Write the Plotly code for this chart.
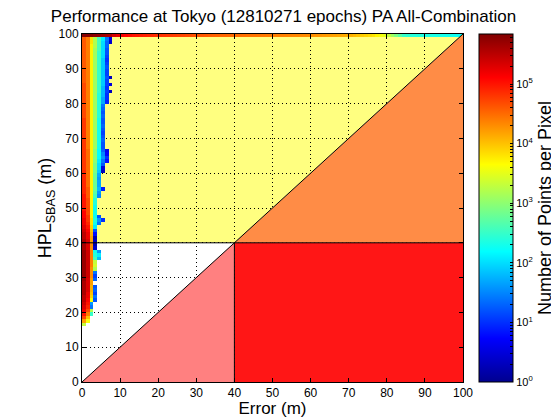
import numpy as np
import plotly.graph_objects as go

# ---------------- data ----------------
title_text = "Performance at Tokyo (12810271 epochs) PA All-Combination"
x_ticks = [0, 10, 20, 30, 40, 50, 60, 70, 80, 90, 100]
y_ticks = [0, 10, 20, 30, 40, 50, 60, 70, 80, 90, 100]
cbar_ticks = [0, 1, 2, 3, 4, 5]
cbar_labels = ["10<sup>0</sup>", "10<sup>1</sup>", "10<sup>2</sup>",
               "10<sup>3</sup>", "10<sup>4</sup>", "10<sup>5</sup>"]
alarm_limit = 40
log_count_max = 5.84

# log10(points per pixel), per HPL bin (1 m), columns = error bins 0,1,2,... (1 m)
hpl_bins = list(range(16, 99))
hpl_rows = [
    [3.3],                                   # 16
    [4.2, 3.6],                              # 17
    [4.7, 4.0],                              # 18
    [5.0, 4.4, 2.5],                         # 19
    [5.2, 4.7, 3.2],                         # 20
    [5.3, 4.9, 1.4],                         # 21
    [5.4, 5.0, 1.6],                         # 22
    [5.5, 5.1, 3.6, 1.2],                    # 23
    [5.5, 5.2, 3.9, 1.4],                    # 24
    [5.6, 5.2, 4.0, 1.1],                    # 25
    [5.6, 5.3, 4.1, 1.3],                    # 26
    [5.6, 5.3, 4.1, 1.2],                    # 27
    [5.6, 5.3, 4.2],                         # 28
    [5.7, 5.3, 4.2, 1.3],                    # 29
    [5.7, 5.4, 4.3, 1.1],                    # 30
    [5.7, 5.4, 4.3, 1.4],                    # 31
    [5.7, 5.4, 4.3, 3.2],                    # 32
    [5.7, 5.4, 4.4, 3.4],                    # 33
    [5.7, 5.4, 4.4, 3.3],                    # 34
    [5.7, 5.4, 4.4, 2.6, 1.8],               # 35
    [5.7, 5.4, 4.4, 2.4, 2.1],               # 36
    [5.7, 5.4, 4.4, 2.3, 1.6],               # 37
    [5.6, 5.3, 4.3, 0.4],                    # 38
    [5.6, 5.3, 4.3, 0.2],                    # 39
    [5.6, 5.3, 4.2, 0.3],                    # 40
    [5.5, 5.2, 4.2, 0.2],                    # 41
    [5.5, 5.2, 4.1, 0.8],                    # 42
    [5.4, 5.1, 4.0, 1.2],                    # 43
    [5.3, 5.0, 3.9, 2.1],                    # 44
    [5.2, 4.9, 3.8, 2.3, 1.4],               # 45
    [5.2, 4.8, 3.8, 2.4, 1.6, 1.0],          # 46
    [5.1, 4.8, 3.7, 2.3, 1.2],               # 47
    [5.1, 4.7, 3.7, 2.3],                    # 48
    [5.0, 4.7, 3.7, 2.3],                    # 49
    [5.0, 4.7, 3.7, 2.3],                    # 50
    [5.0, 4.7, 3.7, 2.4],                    # 51
    [5.0, 4.7, 3.7, 2.4],                    # 52
    [5.0, 4.6, 3.7, 2.6, 1.5],               # 53
    [4.9, 4.6, 3.7, 2.7, 1.6],               # 54
    [4.9, 4.6, 3.7, 2.8, 1.8, 0.9],          # 55
    [4.9, 4.5, 3.7, 2.8, 1.7],               # 56
    [4.9, 4.5, 3.7, 2.8, 1.7],               # 57
    [4.9, 4.5, 3.7, 2.8, 1.6],               # 58
    [4.9, 4.5, 3.7, 2.8, 1.7],               # 59
    [4.9, 4.5, 3.7, 2.9, 1.9, 0.3],          # 60
    [4.8, 4.5, 3.7, 2.9, 2.0, 0.5],          # 61
    [4.8, 4.5, 3.7, 2.9, 2.0, 1.2],          # 62
    [4.8, 4.5, 3.7, 3.0, 2.1, 1.4, 0.8],     # 63
    [4.8, 4.5, 3.7, 3.0, 2.2, 1.6, 1.0],     # 64
    [4.8, 4.5, 3.7, 3.0, 2.2, 1.5, 0.7],     # 65
    [4.8, 4.5, 3.7, 3.0, 2.2, 1.3, 0.6],     # 66
    [4.8, 4.4, 3.7, 3.1, 2.3, 1.2],          # 67
    [4.8, 4.4, 3.7, 3.1, 2.3, 1.2],          # 68
    [4.8, 4.4, 3.7, 3.1, 2.3, 1.3],          # 69
    [4.8, 4.4, 3.7, 3.1, 2.3, 1.2],          # 70
    [4.8, 4.4, 3.7, 3.1, 2.3, 1.1],          # 71
    [4.8, 4.4, 3.7, 3.1, 2.3, 1.2],          # 72
    [4.8, 4.4, 3.7, 3.1, 2.3, 1.3],          # 73
    [4.8, 4.4, 3.7, 3.1, 2.3, 1.2],          # 74
    [4.8, 4.4, 3.7, 3.1, 2.3, 1.2],          # 75
    [4.7, 4.4, 3.7, 3.1, 2.4, 1.3],          # 76
    [4.7, 4.4, 3.7, 3.1, 2.4, 1.2],          # 77
    [4.7, 4.4, 3.7, 3.1, 2.4, 1.3],          # 78
    [4.7, 4.4, 3.7, 3.1, 2.4, 1.4],          # 79
    [4.7, 4.4, 3.7, 3.1, 2.4, 1.7, 0.9],     # 80
    [4.7, 4.4, 3.7, 3.1, 2.4, 1.7, 1.0],     # 81
    [4.7, 4.4, 3.7, 3.1, 2.4, 1.8, 1.0],     # 82
    [4.7, 4.4, 3.7, 3.1, 2.5, 1.8, 1.1, 0.3],  # 83
    [4.7, 4.4, 3.7, 3.1, 2.5, 1.8, 1.0],     # 84
    [4.7, 4.4, 3.7, 3.1, 2.5, 1.9, 1.1, 0.5],  # 85
    [4.6, 4.4, 3.7, 3.1, 2.5, 1.9, 1.1],     # 86
    [4.6, 4.4, 3.7, 3.1, 2.5, 1.9, 1.2, 0.3],  # 87
    [4.6, 4.4, 3.7, 3.1, 2.5, 1.9, 1.1],     # 88
    [4.6, 4.4, 3.7, 3.1, 2.5, 1.9, 1.1],     # 89
    [4.6, 4.4, 3.7, 3.1, 2.5, 1.9, 1.2],     # 90
    [4.6, 4.4, 3.7, 3.1, 2.5, 1.9, 1.1],     # 91
    [4.6, 4.4, 3.7, 3.1, 2.5, 1.9, 1.0],     # 92
    [4.6, 4.4, 3.7, 3.1, 2.5, 2.0, 1.1],     # 93
    [4.6, 4.4, 3.7, 3.1, 2.5, 2.0, 1.2],     # 94
    [4.6, 4.4, 3.7, 3.1, 2.6, 2.0, 1.2],     # 95
    [4.6, 4.4, 3.7, 3.2, 2.6, 2.0, 1.3],     # 96
    [4.6, 4.4, 3.8, 3.2, 2.6, 2.0, 1.3, 0.4],  # 97
    [4.6, 4.4, 3.8, 3.2, 2.6, 2.1, 1.4, 0.5],  # 98
]

# saturated HPL (top row, 99-100 m), error bins 0..99
top_row = [
    5.80, 5.80, 5.80, 5.75, 5.70, 5.65, 5.60, 5.55, 5.35, 5.25,
    5.15, 5.10, 5.05, 5.00, 4.98, 4.95, 4.92, 4.90, 4.88, 4.86,
    4.84, 4.82, 4.80, 4.78, 4.76, 4.74, 4.72, 4.70, 4.68, 4.66,
    4.64, 4.62, 4.60, 4.58, 4.56, 4.55, 4.54, 4.53, 4.52, 4.51,
    4.50, 4.49, 4.48, 4.47, 4.46, 4.45, 4.44, 4.43, 4.42, 4.41,
    4.40, 4.39, 4.38, 4.37, 4.36, 4.35, 4.34, 4.33, 4.32, 4.31,
    4.30, 4.28, 4.26, 4.24, 4.22, 4.20, 4.18, 4.16, 4.14, 4.12,
    4.10, 4.05, 4.00, 3.95, 3.90, 3.85, 3.80, 3.70, 3.60, 3.50,
    3.30, 3.10, 2.90, 2.70, 2.50, 2.45, 2.40, 2.40, 2.38, 2.36,
    2.35, 2.34, 2.33, 2.32, 2.31, 2.30, 2.30, 2.28, 2.26, 2.25,
]

# ---------------- build grid ----------------
n_bins = 100
z = np.full((n_bins, n_bins), np.nan)
for h, vals in zip(hpl_bins, hpl_rows):
    z[h, :len(vals)] = vals
z[99, :] = top_row
centers = np.arange(n_bins) + 0.5

jet = [[0.0, "rgb(0,0,143)"], [0.125, "rgb(0,0,255)"], [0.375, "rgb(0,255,255)"],
       [0.625, "rgb(255,255,0)"], [0.875, "rgb(255,0,0)"], [1.0, "rgb(128,0,0)"]]

minor_vals = [np.log10(m * 10 ** d) for d in range(0, 6) for m in range(2, 10)
              if np.log10(m * 10 ** d) < log_count_max]
tickvals = cbar_ticks + minor_vals
ticktext = cbar_labels + [""] * len(minor_vals)

FONT = "Liberation Sans"
fig = go.Figure()

# region fills (above grid, below heatmap)
fig.add_trace(go.Scatter(x=[alarm_limit, 100, 100], y=[alarm_limit, alarm_limit, 100],
                         fill="toself", fillcolor="rgb(255,140,70)", mode="none",
                         hoverinfo="skip", showlegend=False))
fig.add_trace(go.Scatter(x=[alarm_limit, 100, 100, alarm_limit], y=[0, 0, alarm_limit, alarm_limit],
                         fill="toself", fillcolor="rgb(255,22,22)", mode="none",
                         hoverinfo="skip", showlegend=False))
fig.add_trace(go.Scatter(x=[0, alarm_limit, alarm_limit], y=[0, 0, alarm_limit],
                         fill="toself", fillcolor="rgb(255,128,128)", mode="none",
                         hoverinfo="skip", showlegend=False))
fig.add_trace(go.Scatter(x=[0, 100, None, alarm_limit, alarm_limit, None, 0, 100],
                         y=[alarm_limit, alarm_limit, None, 0, alarm_limit, None, 0, 100],
                         mode="lines", line=dict(color="black", width=1),
                         hoverinfo="skip", showlegend=False))

fig.add_trace(go.Heatmap(
    x=centers, y=centers, z=z, zmin=0, zmax=log_count_max, colorscale=jet,
    hoverongaps=False,
    colorbar=dict(
        thickness=34, thicknessmode="pixels", len=1, lenmode="fraction",
        x=1.042, xanchor="left", y=0.5, yanchor="middle",
        outlinecolor="black", outlinewidth=1, xpad=0, ypad=0,
        tickmode="array", tickvals=tickvals, ticktext=ticktext,
        ticks="inside", ticklen=3, tickcolor="black",
        tickfont=dict(family=FONT, size=11, color="black"),
        title=dict(text="Number of Points per Pixel", side="right",
                   font=dict(family=FONT, size=18, color="black")),
    ),
))

fig.add_shape(type="path", path=f"M 0 {alarm_limit} L {alarm_limit} {alarm_limit} L 100 100 L 0 100 Z",
              xref="x", yref="y", fillcolor="rgb(255,255,128)", line=dict(width=0), layer="below")

axis_common = dict(
    range=[0, 100], tickmode="array", showgrid=True, gridcolor="black", griddash="1px,3px",
    gridwidth=1, zeroline=False, showline=True, linecolor="black", linewidth=1,
    mirror="ticks", ticks="inside", ticklen=4, tickcolor="black",
    tickfont=dict(family=FONT, size=12, color="black"),
)
fig.update_xaxes(**axis_common, tickvals=x_ticks, ticktext=[str(v) for v in x_ticks],
                 title=dict(text="Error (m)", font=dict(family=FONT, size=17, color="black"), standoff=3))
fig.update_yaxes(**axis_common, tickvals=y_ticks, ticktext=[str(v) for v in y_ticks],
                 title=dict(text="HPL<sub>SBAS</sub> (m)", font=dict(family=FONT, size=18, color="black"), standoff=2))

# the page body has an 8px margin: the figure sits at (8, 8), so it is 8px smaller
fig.update_layout(
    width=551, height=410,
    margin=dict(l=74, r=96, t=26, b=36, autoexpand=False),
    paper_bgcolor="white", plot_bgcolor="white",
    title=dict(text=title_text, x=0.5, xanchor="center", y=1.0, yanchor="top",
               pad=dict(t=2), font=dict(family=FONT, size=17, color="black")),
    showlegend=False,
)

fig.write_html("out.html")
